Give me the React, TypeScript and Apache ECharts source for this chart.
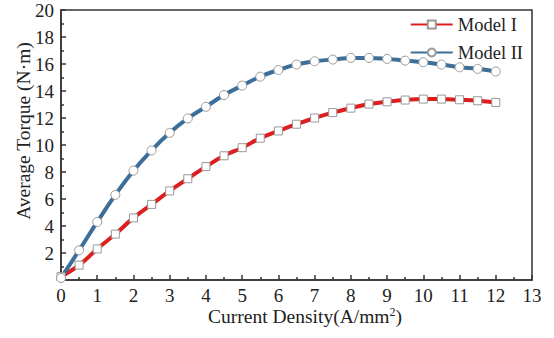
import React, { useEffect, useRef } from "react";
import * as echarts from "echarts";

const xValues = [0, 0.5, 1, 1.5, 2, 2.5, 3, 3.5, 4, 4.5, 5, 5.5, 6, 6.5, 7, 7.5, 8, 8.5, 9, 9.5, 10, 10.5, 11, 11.5, 12];
const modelI = [0.25, 1.1, 2.3, 3.4, 4.6, 5.6, 6.6, 7.5, 8.4, 9.2, 9.8, 10.5, 11.04, 11.54, 12.0, 12.4, 12.73, 13.03, 13.2, 13.33, 13.4, 13.4, 13.35, 13.28, 13.15];
const modelII = [0.15, 2.2, 4.3, 6.3, 8.1, 9.6, 10.9, 11.97, 12.83, 13.7, 14.4, 15.06, 15.56, 15.96, 16.2, 16.33, 16.45, 16.45, 16.38, 16.25, 16.13, 15.96, 15.76, 15.64, 15.44];
const seriesNames = ["Model I", "Model II"];
const xAxisTitle = "Current Density(A/mm{sup|2})";
const yAxisTitle = "Average Torque (N·m)";

const FONT = "'Liberation Serif', 'Times New Roman', serif";

export default function App() {
  const ref = useRef<HTMLDivElement>(null);
  useEffect(() => {
    if (!ref.current) return;
    const chart = echarts.init(ref.current, undefined, { renderer: "svg" });
    const axisColor = "#333";
    chart.setOption({
      animation: false,
      backgroundColor: "#fff",
      textStyle: { fontFamily: FONT },
      grid: { left: 61, right: 22, top: 10, bottom: 58, show: true, borderColor: axisColor, borderWidth: 1.5, containLabel: false },
      legend: {
        orient: "vertical",
        right: 26,
        top: 10,
        itemWidth: 42,
        itemHeight: 10,
        itemGap: 9,
        textStyle: { fontFamily: FONT, fontSize: 18.5, color: "#222" },
        data: seriesNames,
      },
      graphic: [
        {
          type: "text",
          x: 23,
          y: 131,
          rotation: Math.PI / 2,
          style: { text: yAxisTitle, fontFamily: FONT, fontSize: 19.5, fill: "#222", align: "center", verticalAlign: "middle" },
        },
        {
          type: "text",
          x: 305,
          y: 316,
          style: {
            text: xAxisTitle,
            fontFamily: FONT,
            fontSize: 19.5,
            fill: "#222",
            align: "center",
            verticalAlign: "middle",
            rich: { sup: { fontFamily: FONT, fontSize: 12, verticalAlign: "top", padding: [0, 0, 9, 0], fill: "#222" } },
          },
        },
      ],
      xAxis: {
        type: "value",
        min: 0,
        max: 13,
        interval: 1,
        axisLine: { lineStyle: { color: axisColor, width: 1.5 } },
        axisTick: { inside: true, length: 5, lineStyle: { color: axisColor, width: 1.5 } },
        minorTick: { show: true, splitNumber: 2, length: 3, lineStyle: { color: axisColor, width: 1.5 } },
        axisLabel: { fontFamily: FONT, fontSize: 19, color: "#222", margin: 6 },
        splitLine: { show: false },
      },
      yAxis: {
        type: "value",
        min: 0,
        max: 20,
        interval: 2,
        axisLine: { show: true, lineStyle: { color: axisColor, width: 1.5 } },
        axisTick: { inside: true, length: 5, lineStyle: { color: axisColor, width: 1.5 } },
        minorTick: { show: true, splitNumber: 2, length: 3, lineStyle: { color: axisColor, width: 1.5 } },
        axisLabel: { fontFamily: FONT, fontSize: 19, color: "#222", margin: 7, formatter: (v: number) => (v === 0 ? "" : String(v)) },
        splitLine: { show: false },
      },
      series: [
        {
          name: seriesNames[0],
          type: "line",
          smooth: true,
          data: xValues.map((x, i) => [x, modelI[i]]),
          lineStyle: { color: "#dc1e1e", width: 4 },
          itemStyle: { color: "#fff", borderColor: "#999", borderWidth: 1 },
          symbol: "rect",
          symbolSize: 8,
          color: "#dc1e1e",
          z: 3,
        },
        {
          name: seriesNames[1],
          type: "line",
          smooth: true,
          data: xValues.map((x, i) => [x, modelII[i]]),
          lineStyle: { color: "#3c6e9a", width: 4 },
          itemStyle: { color: "#fff", borderColor: "#999", borderWidth: 1 },
          symbol: "circle",
          symbolSize: 9,
          color: "#3c6e9a",
          z: 3,
        },
      ],
    });
    return () => chart.dispose();
  }, []);
  return <div ref={ref} style={{ width: 554, height: 338, position: "absolute", left: 0, top: 0 }} />;
}
